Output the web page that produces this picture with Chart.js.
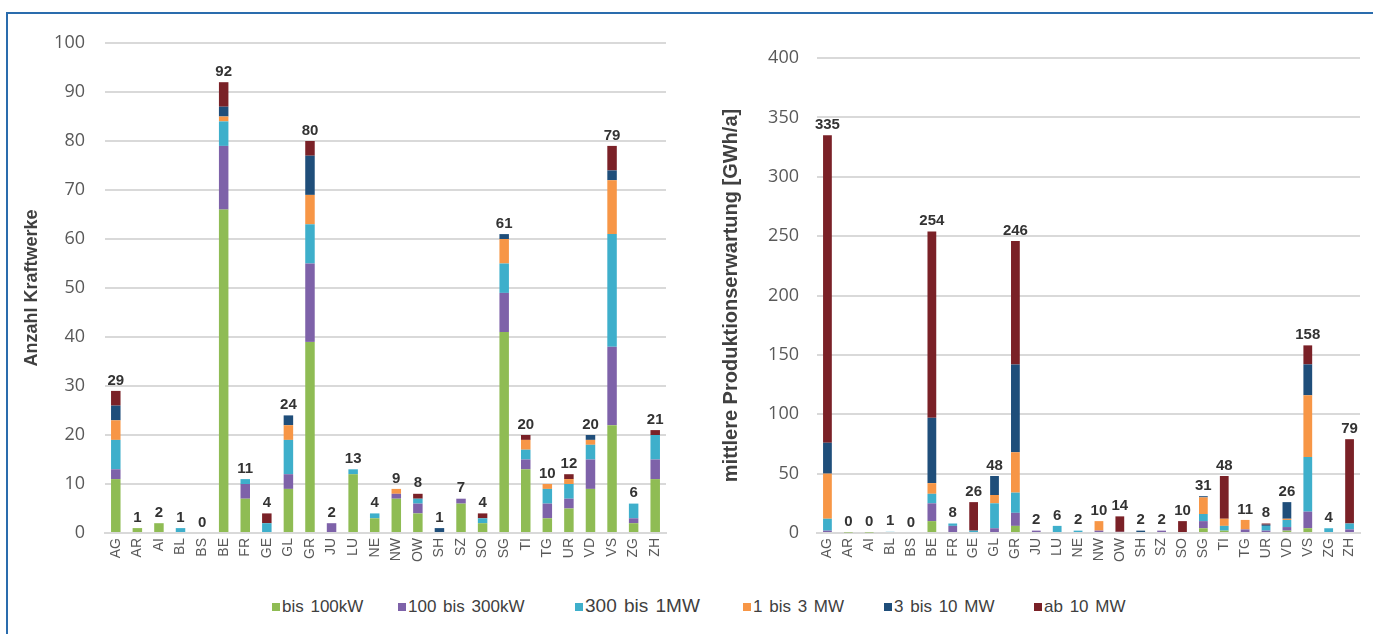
<!DOCTYPE html>
<html>
<head>
<meta charset="utf-8">
<script src="https://cdn.jsdelivr.net/npm/chart.js@4.4.1/dist/chart.umd.min.js"></script>
<style>
  body { margin: 0; background: #fff; width: 1373px; height: 634px; overflow: hidden; position: relative; }
  #frame { position: absolute; left: 6px; top: 12px; width: 1400px; height: 700px; border: 2px solid #2a6cad; box-sizing: border-box; }
  .box { position: absolute; top: 0; height: 590px; }
  #left { left: 0; width: 690px; }
  #right { left: 700px; width: 673px; }
  .leg { position: absolute; top: 597px; font-family: "Liberation Sans", Arial, sans-serif; font-size: 17px; color: #404040; word-spacing: 2px; white-space: nowrap; }
  .leg i { display: inline-block; width: 8px; height: 8px; margin-right: 2px; vertical-align: 1px; }
</style>
</head>
<body>
<div id="frame"></div>
<div class="box" id="left"><canvas id="chart-1"></canvas></div>
<div class="box" id="right"><canvas id="chart-2"></canvas></div>
<div id="legend"></div>
<script>
const cantons = ['AG','AR','AI','BL','BS','BE','FR','GE','GL','GR','JU','LU','NE','NW','OW','SH','SZ','SO','SG','TI','TG','UR','VD','VS','ZG','ZH'];
const classes = ['bis 100kW', '100 bis 300kW', '300 bis 1MW', '1 bis 3 MW', '3 bis 10 MW', 'ab 10 MW'];
const colors = ['#8fbc54', '#7e62a9', '#3eafcb', '#f79646', '#1f4e7a', '#7a2127'];

// Anzahl Kraftwerke
const anzBis100   = [11,1,2,0,0,66,7,0,9,39,0,12,3,7,4,0,6,2,41,13,3,5,9,22,2,11];
const anz100_300  = [2,0,0,0,0,13,3,0,3,16,2,0,0,1,2,0,1,0,8,2,3,2,6,16,1,4];
const anz300_1M   = [6,0,0,1,0,5,1,2,7,8,0,1,1,0,1,0,0,1,6,2,3,3,3,23,3,5];
const anz1_3M     = [4,0,0,0,0,1,0,0,3,6,0,0,0,1,0,0,0,0,5,2,1,1,1,11,0,0];
const anz3_10M    = [3,0,0,0,0,2,0,0,2,8,0,0,0,0,0,1,0,0,1,0,0,0,1,2,0,0];
const anzAb10M    = [3,0,0,0,0,5,0,2,0,3,0,0,0,0,1,0,0,1,0,1,0,1,0,5,0,1];

// mittlere Produktionserwartung [GWh/a]
const prodBis100  = [0,0.4,0.4,0,0,10,0,0,0,6,0,0,0,0,0,0,0,0,4,2,0,0,2,4,0,0];
const prod100_300 = [2,0,0,0,0,15,6,0,4,11,2,0,0,2,1,0,2,0,6,0,3,2,3,14,0,3];
const prod300_1M  = [10,0,0,1,0,8,2,2,21,17,0,6,2,0,0,0,0,0,6,4,0,4,6,46,4,5];
const prod1_3M    = [38,0,0,0,0,9,0,0,7,34,0,0,0,8,0,0,0,0,14,6,8,0,1,52,0,0];
const prod3_10M   = [26,0,0,0,0,55,0,0,16,74,0,0,0,0,0,2,0,0,1,0,0,1,14,26,0,0];
const prodAb10M   = [259,0,0,0,0,157,0,24,0,104,0,0,0,0,13,0,0,10,0,36,0,1,0,16,0,71];

const anzTicks = [0,10,20,30,40,50,60,70,80,90,100];
const prodTicks = [0,50,100,150,200,250,300,350,400];

const totalLabels = {
  id: 'totalLabels',
  afterDatasetsDraw(chart) {
    const ctx = chart.ctx;
    const xs = chart.scales.x, ys = chart.scales.y;
    ctx.save();
    ctx.font = 'bold 15px "Liberation Sans", Arial, sans-serif';
    ctx.fillStyle = '#333333';
    ctx.textAlign = 'center';
    ctx.textBaseline = 'bottom';
    chart.data.labels.forEach((lab, i) => {
      let sum = 0;
      chart.data.datasets.forEach(ds => { sum += ds.data[i]; });
      const x = xs.getPixelForValue(i);
      const y = ys.getPixelForValue(sum);
      ctx.fillText(String(Math.round(sum)), x, y - 3);
    });
    ctx.restore();
  }
};

function makeChart(id, series, ticks, max, title, opts) {
  const datasets = series.map((d, k) => ({
    label: classes[k],
    data: d,
    backgroundColor: colors[k],
    borderWidth: 0,
    barPercentage: opts.bar,
    categoryPercentage: 1
  }));
  const ctx = document.getElementById(id).getContext('2d');
  return new Chart(ctx, {
    type: 'bar',
    data: { labels: cantons, datasets: datasets },
    options: {
      responsive: true,
      maintainAspectRatio: false,
      animation: false,
      layout: { padding: { top: opts.top, right: opts.right, bottom: 0, left: 0 } },
      plugins: { legend: { display: false }, tooltip: { enabled: false } },
      scales: {
        x: {
          stacked: true,
          grid: { display: false, drawTicks: false },
          border: { color: '#d9d9d9', width: 2 },
          ticks: {
            color: '#595959',
            font: { family: '"Liberation Sans", Arial, sans-serif', size: 14 },
            minRotation: 90, maxRotation: 90, padding: 5, autoSkip: false
          },
          afterFit: s => { s.height = 590 - opts.bottom; }
        },
        y: {
          stacked: true,
          min: 0, max: max,
          afterBuildTicks: s => { s.ticks = ticks.map(v => ({ value: v })); },
          grid: { color: '#d9d9d9', lineWidth: 2, drawTicks: false },
          border: { display: false },
          ticks: {
            color: '#595959',
            font: { family: '"Open Sans", sans-serif', size: 18 },
            padding: opts.tickPad
          },
          title: {
            display: true, text: title, color: '#404040',
            font: { family: '"Liberation Sans", Arial, sans-serif', size: opts.titleSize, weight: 'bold' },
            padding: { top: opts.titlePad, bottom: 0 }
          },
          afterFit: s => { s.width = opts.axisW; }
        }
      }
    },
    plugins: [totalLabels]
  });
}

makeChart('chart-1', [anzBis100, anz100_300, anz300_1M, anz1_3M, anz3_10M, anzAb10M],
  anzTicks, 100, 'Anzahl Kraftwerke',
  { top: 43, right: 24, bottom: 533, axisW: 105, tickPad: 20, titlePad: 21, titleSize: 18, bar: 0.44 });

makeChart('chart-2', [prodBis100, prod100_300, prod300_1M, prod1_3M, prod3_10M, prodAb10M],
  prodTicks, 400, 'mittlere Produktionserwartung [GWh/a]',
  { top: 58, right: 13, bottom: 533, axisW: 117, tickPad: 18, titlePad: 19, titleSize: 20, bar: 0.42 });

// shared legend
const legX = [272, 398, 575, 743, 884, 1034];
const legend = document.getElementById('legend');
classes.forEach((c, k) => {
  const el = document.createElement('div');
  el.className = 'leg';
  el.style.left = legX[k] + 'px';
  if (k === 2) { el.style.fontSize = '19px'; el.style.top = '595px'; }
  el.innerHTML = '<i style="background:' + colors[k] + '"></i>' + c;
  legend.appendChild(el);
});
</script>
</body>
</html>
